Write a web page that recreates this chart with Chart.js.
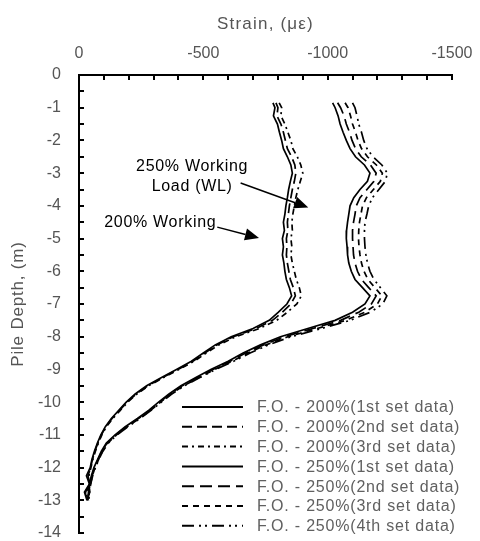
<!DOCTYPE html>
<html>
<head>
<meta charset="utf-8">
<script src="https://cdn.jsdelivr.net/npm/chart.js@4.4.1/dist/chart.umd.min.js"></script>
<style>
  body { margin: 0; background: #fff; }
  #wrap { width: 480px; height: 541px; position: relative; }
</style>
</head>
<body>
<div id="wrap"><canvas id="strainChart"></canvas></div>
<script>
// pile depth (m) shared by all readings
const depths = [-0.85, -1.0, -1.25, -1.5, -1.75, -2.0, -2.25, -2.5, -2.75, -3.0,
  -3.25, -3.5, -3.75, -4.0, -4.25, -4.5, -4.75, -5.0, -5.25, -5.5,
  -5.75, -6.0, -6.25, -6.5, -6.75, -7.0, -7.25, -7.5, -7.75, -8.0,
  -8.25, -8.5, -8.75, -9.0, -9.25, -9.5, -9.75, -10.0, -10.25, -10.5,
  -10.75, -11.0, -11.25, -11.5, -11.75, -12.0, -12.25, -12.5, -12.75, -13.0];

// strain readings (micro strain)
const fo200Set1 = [-780, -788, -782, -798, -806, -815, -822, -838, -852, -858,
  -850, -843, -838, -832, -828, -822, -826, -818, -822, -818,
  -824, -828, -834, -846, -855, -836, -802, -765, -700, -612,
  -548, -500, -452, -392, -332, -272, -226, -190, -160, -130,
  -106, -88, -74, -62, -52, -45, -30, -42, -22, -32];
const fo200Set2 = [-792, -800, -796, -812, -822, -830, -838, -855, -868, -872,
  -866, -858, -852, -846, -842, -838, -840, -834, -836, -834,
  -838, -844, -850, -862, -870, -852, -818, -778, -712, -620,
  -555, -506, -458, -398, -336, -276, -230, -193, -163, -133,
  -108, -90, -76, -64, -54, -47, -36, -44, -26, -34];
const fo200Set3 = [-805, -815, -812, -828, -840, -852, -860, -878, -892, -900,
  -890, -880, -872, -866, -860, -856, -858, -852, -856, -852,
  -858, -866, -874, -886, -894, -876, -838, -795, -725, -630,
  -562, -512, -463, -402, -340, -280, -233, -196, -166, -136,
  -110, -92, -78, -66, -56, -48, -40, -46, -28, -36];
const fo250Set1 = [-1020, -1030, -1042, -1050, -1062, -1075, -1090, -1112, -1148, -1170,
  -1160, -1130, -1105, -1090, -1085, -1080, -1076, -1075, -1078, -1080,
  -1085, -1095, -1110, -1140, -1170, -1150, -1100, -1030, -920, -810,
  -730, -660, -600, -530, -470, -410, -362, -320, -280, -235,
  -186, -145, -110, -90, -75, -60, -50, -42, -38, -35];
const fo250Set2 = [-1040, -1052, -1066, -1075, -1088, -1098, -1112, -1135, -1172, -1195,
  -1186, -1158, -1130, -1115, -1110, -1104, -1100, -1100, -1102, -1104,
  -1110, -1120, -1136, -1165, -1195, -1176, -1125, -1052, -940, -825,
  -742, -670, -608, -538, -476, -415, -366, -324, -284, -239,
  -190, -148, -113, -92, -77, -62, -52, -44, -40, -37];
const fo250Set3 = [-1070, -1082, -1092, -1100, -1112, -1122, -1136, -1160, -1196, -1220,
  -1212, -1184, -1156, -1140, -1134, -1128, -1125, -1124, -1126, -1130,
  -1136, -1146, -1162, -1190, -1218, -1200, -1150, -1072, -958, -840,
  -752, -680, -616, -545, -482, -420, -370, -328, -288, -243,
  -194, -151, -116, -94, -79, -64, -54, -46, -42, -38];
const fo250Set4 = [-1100, -1110, -1118, -1125, -1136, -1145, -1158, -1182, -1218, -1240,
  -1232, -1206, -1180, -1165, -1158, -1150, -1148, -1148, -1150, -1154,
  -1160, -1170, -1186, -1212, -1238, -1222, -1172, -1090, -975, -852,
  -762, -688, -622, -550, -486, -424, -373, -331, -290, -246,
  -197, -153, -118, -96, -80, -66, -55, -47, -43, -39];

const seriesLabels = [
  'F.O. - 200%(1st set data)',
  'F.O. - 200%(2nd set data)',
  'F.O. - 200%(3rd set data)',
  'F.O. - 250%(1st set data)',
  'F.O. - 250%(2nd set data)',
  'F.O. - 250%(3rd set data)',
  'F.O. - 250%(4th set data)'
];
const seriesValues = [fo200Set1, fo200Set2, fo200Set3, fo250Set1, fo250Set2, fo250Set3, fo250Set4];
const dashes = [[], [10, 5], [6, 4, 2, 4], [], [12, 6], [6, 5], [12, 5, 2, 4, 2, 5]];

const strainTicks = [0, -500, -1000, -1500];
const depthTicks = [0, -1, -2, -3, -4, -5, -6, -7, -8, -9, -10, -11, -12, -13, -14];

// callouts: text lines and arrows in data units
const callouts = [
  { lines: ['250% Working', 'Load (WL)'], at: [-455, -2.81], from: [-650, -3.3], to: [-922, -4.05] },
  { lines: ['200% Working'], at: [-327, -4.5], from: [-556, -4.65], to: [-724, -4.98] }
];

const FONT = "'Liberation Sans', Arial, sans-serif";

const datasets = seriesValues.map((vals, i) => ({
  label: seriesLabels[i],
  data: vals.map((v, j) => ({ x: v, y: depths[j] })),
  borderColor: '#000',
  borderWidth: 1.7,
  borderDash: dashes[i],
  pointRadius: 0,
  showLine: true,
  fill: false,
  tension: 0
}));

// axis titles in the original are letter-spaced, tick labels are not
function spaceTitle(s, sp) {
  if (s._spaced) return;
  const orig = s.drawTitle;
  s.drawTitle = function () {
    const c = this.ctx;
    const prev = c.letterSpacing;
    c.letterSpacing = sp;
    orig.call(this);
    c.letterSpacing = prev;
  };
  s._spaced = true;
}

const extras = {
  id: 'extras',
  afterDraw(chart) {
    const ctx = chart.ctx;
    const xs = chart.scales.x, ys = chart.scales.y;
    const area = chart.chartArea;
    ctx.save();
    // inward tick marks
    ctx.strokeStyle = '#000';
    ctx.lineWidth = 2;
    ctx.setLineDash([]);
    ctx.beginPath();
    for (let v = 0; v >= -1500; v -= 100) {
      const px = Math.round(xs.getPixelForValue(v));
      ctx.moveTo(px, area.top);
      ctx.lineTo(px, area.top + 5);
    }
    for (let d = 0; d >= -14; d -= 0.5) {
      const py = Math.round(ys.getPixelForValue(d));
      ctx.moveTo(area.left, py);
      ctx.lineTo(area.left + 5, py);
    }
    ctx.stroke();

    // callouts
    ctx.fillStyle = '#000';
    ctx.font = '16px ' + FONT;
    ctx.letterSpacing = '0.7px';
    ctx.textAlign = 'center';
    ctx.textBaseline = 'middle';
    callouts.forEach(c => {
      const cx = xs.getPixelForValue(c.at[0]);
      const cy = ys.getPixelForValue(c.at[1]);
      c.lines.forEach((t, k) => ctx.fillText(t, cx, cy + k * 20));
      const x1 = xs.getPixelForValue(c.from[0]), y1 = ys.getPixelForValue(c.from[1]);
      const x2 = xs.getPixelForValue(c.to[0]), y2 = ys.getPixelForValue(c.to[1]);
      const ang = Math.atan2(y2 - y1, x2 - x1);
      const hl = 14, hw = 6;
      const bx = x2 - hl * Math.cos(ang), by = y2 - hl * Math.sin(ang);
      ctx.lineWidth = 1.5;
      ctx.beginPath();
      ctx.moveTo(x1, y1);
      ctx.lineTo(bx, by);
      ctx.stroke();
      ctx.beginPath();
      ctx.moveTo(x2, y2);
      ctx.lineTo(bx + hw * Math.sin(ang), by - hw * Math.cos(ang));
      ctx.lineTo(bx - hw * Math.sin(ang), by + hw * Math.cos(ang));
      ctx.closePath();
      ctx.fill();
    });

    // legend, bottom right inside the plot
    ctx.font = '16px ' + FONT;
    ctx.letterSpacing = '0.8px';
    ctx.textAlign = 'left';
    ctx.fillStyle = '#606060';
    const lx0 = 182, lx1 = 243, tx = 257, ty0 = 407, step = 19.8;
    datasets.forEach((ds, i) => {
      const y = ty0 + i * step;
      ctx.strokeStyle = '#000';
      ctx.lineWidth = 2;
      ctx.setLineDash(ds.borderDash);
      ctx.beginPath();
      ctx.moveTo(lx0, y);
      ctx.lineTo(lx1, y);
      ctx.stroke();
      ctx.setLineDash([]);
      ctx.fillText(ds.label, tx, y + 1);
    });
    ctx.restore();
  }
};

new Chart(document.getElementById('strainChart'), {
  type: 'scatter',
  data: { datasets },
  options: {
    responsive: true,
    maintainAspectRatio: false,
    animation: false,
    layout: { padding: { left: 0, right: 28, top: 0, bottom: 8 } },
    plugins: { legend: { display: false }, tooltip: { enabled: false } },
    scales: {
      x: {
        type: 'linear',
        position: 'top',
        min: -1500,
        max: 0,
        reverse: true,
        afterBuildTicks: s => { s.ticks = strainTicks.map(v => ({ value: v })); },
        afterFit: s => {
          s.height = 75; s.paddingLeft = 0; s.paddingRight = 0;
          spaceTitle(s, '1.2px');
        },
        grid: { display: false, drawTicks: false },
        border: { display: true, color: '#000', width: 2 },
        ticks: { color: '#555', padding: 12, maxRotation: 0, autoSkip: false,
          callback: v => String(v),
          font: { family: FONT, size: 16 } },
        title: { display: true, text: 'Strain, (\u03bc\u03b5)', color: '#555',
          font: { family: FONT, size: 17 }, padding: { top: 14, bottom: 0 } }
      },
      y: {
        type: 'linear',
        min: -14,
        max: 0,
        afterBuildTicks: s => { s.ticks = depthTicks.map(v => ({ value: v })); },
        afterFit: s => {
          s.width = 79; s.paddingTop = 0; s.paddingBottom = 0;
          spaceTitle(s, '0.8px');
        },
        grid: { display: false, drawTicks: false },
        border: { display: true, color: '#000', width: 2 },
        ticks: { color: '#555', padding: 18, autoSkip: false,
          callback: v => String(v),
          font: { family: FONT, size: 16 } },
        title: { display: true, text: 'Pile Depth, (m)', color: '#555',
          font: { family: FONT, size: 17 }, padding: { top: 8, bottom: 0 } }
      }
    }
  },
  plugins: [extras]
});
</script>
</body>
</html>
